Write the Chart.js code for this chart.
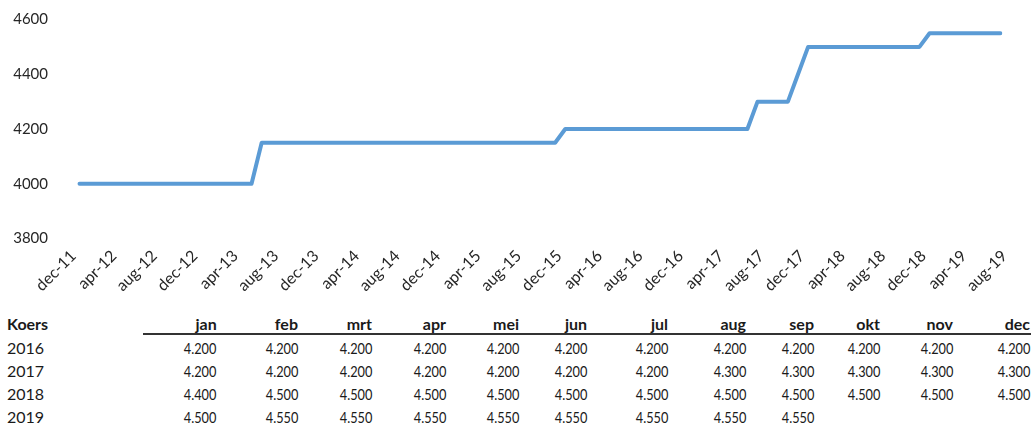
<!DOCTYPE html>
<html>
<head>
<meta charset="utf-8">
<script src="https://cdn.jsdelivr.net/npm/chart.js@4/dist/chart.umd.min.js"></script>
<style>
  html, body { margin: 0; padding: 0; background: #fff; }
  body { width: 1031px; height: 431px; position: relative; overflow: hidden; font-family: Lato, "Noto Sans", sans-serif; color: #1a1a1a; }
  #wrap { position: absolute; left: 0; top: 0; width: 1031px; height: 305px; }
  .cell { position: absolute; white-space: nowrap; line-height: 1; }
  .hdr { font-weight: bold; font-size: 16px; }
  .num { font-size: 15px; transform: scaleX(0.85); transform-origin: right center; }
  .yr { font-size: 16px; }
  #rule { position: absolute; left: 143px; width: 888px; top: 332.5px; height: 2px; background: #333; }
</style>
</head>
<body>
<div id="wrap"><canvas id="c"></canvas></div>
<div id="tbl"></div>
<script>
// ---- chart data ----
const months = [
  'dec-11',
  'jan-12','feb-12','mrt-12','apr-12','mei-12','jun-12','jul-12','aug-12','sep-12','okt-12','nov-12','dec-12',
  'jan-13','feb-13','mrt-13','apr-13','mei-13','jun-13','jul-13','aug-13','sep-13','okt-13','nov-13','dec-13',
  'jan-14','feb-14','mrt-14','apr-14','mei-14','jun-14','jul-14','aug-14','sep-14','okt-14','nov-14','dec-14',
  'jan-15','feb-15','mrt-15','apr-15','mei-15','jun-15','jul-15','aug-15','sep-15','okt-15','nov-15','dec-15',
  'jan-16','feb-16','mrt-16','apr-16','mei-16','jun-16','jul-16','aug-16','sep-16','okt-16','nov-16','dec-16',
  'jan-17','feb-17','mrt-17','apr-17','mei-17','jun-17','jul-17','aug-17','sep-17','okt-17','nov-17','dec-17',
  'jan-18','feb-18','mrt-18','apr-18','mei-18','jun-18','jul-18','aug-18','sep-18','okt-18','nov-18','dec-18',
  'jan-19','feb-19','mrt-19','apr-19','mei-19','jun-19','jul-19','aug-19'
];
const koers = [
  null,
  4000,4000,4000,4000,4000,4000,4000,4000,4000,4000,4000,4000,
  4000,4000,4000,4000,4000,4000,4150,4150,4150,4150,4150,4150,
  4150,4150,4150,4150,4150,4150,4150,4150,4150,4150,4150,4150,
  4150,4150,4150,4150,4150,4150,4150,4150,4150,4150,4150,4150,
  4200,4200,4200,4200,4200,4200,4200,4200,4200,4200,4200,4200,
  4200,4200,4200,4200,4200,4200,4200,4300,4300,4300,4300,4400,
  4500,4500,4500,4500,4500,4500,4500,4500,4500,4500,4500,4500,
  4550,4550,4550,4550,4550,4550,4550,4550
];
const xTickLabels = ['dec-11','apr-12','aug-12','dec-12','apr-13','aug-13','dec-13','apr-14','aug-14','dec-14',
  'apr-15','aug-15','dec-15','apr-16','aug-16','dec-16','apr-17','aug-17','dec-17','apr-18','aug-18','dec-18','apr-19','aug-19'];
const yTickValues = [3800, 4000, 4200, 4400, 4600];

// ---- table data ----
const tableTitle = 'Koers';
const tableMonths = ['jan','feb','mrt','apr','mei','jun','jul','aug','sep','okt','nov','dec'];
const tableYears = ['2016','2017','2018','2019'];
const koers2016 = [4200,4200,4200,4200,4200,4200,4200,4200,4200,4200,4200,4200];
const koers2017 = [4200,4200,4200,4200,4200,4200,4200,4300,4300,4300,4300,4300];
const koers2018 = [4400,4500,4500,4500,4500,4500,4500,4500,4500,4500,4500,4500];
const koers2019 = [4500,4550,4550,4550,4550,4550,4550,4550,4550];

// ---- layout (positions only) ----
const colRight = [216.7, 298, 372, 446, 519, 587, 668, 746, 814, 880, 953, 1030];
const headerCenterY = 324;
const rowCenterY = [348.5, 371.6, 394.7, 417.8];

Chart.defaults.font.family = 'Lato, "Noto Sans", sans-serif';
Chart.defaults.color = '#262626';

new Chart(document.getElementById('c'), {
  type: 'line',
  data: {
    labels: months,
    datasets: [{
      data: koers,
      borderColor: '#5B9BD5',
      borderWidth: 4,
      pointRadius: 0,
      pointHoverRadius: 0,
      tension: 0,
      fill: false,
      borderCapStyle: 'round',
      borderJoinStyle: 'round',
      spanGaps: false
    }]
  },
  options: {
    responsive: true,
    maintainAspectRatio: false,
    animation: false,
    devicePixelRatio: 1,
    layout: { padding: { top: 19.5, right: 30.6, left: 0, bottom: 0 } },
    plugins: { legend: { display: false }, tooltip: { enabled: false } },
    scales: {
      x: {
        type: 'category',
        offset: false,
        grid: { display: false, drawTicks: false },
        border: { display: false },
        ticks: {
          autoSkip: false,
          maxRotation: 45,
          minRotation: 45,
          padding: 8,
          labelOffset: 4,
          font: { size: 16 }
        },
        afterBuildTicks: s => { s.ticks = s.ticks.filter(t => xTickLabels.includes(months[t.value])); },
        afterFit: s => { s.height = 66.5; }
      },
      y: {
        min: 3800,
        max: 4600,
        grid: { display: false, drawTicks: false },
        border: { display: false },
        ticks: {
          padding: 21.4,
          font: { size: 15 },
          callback: v => String(v)
        },
        afterBuildTicks: s => { s.ticks = yTickValues.map(v => ({ value: v })); },
        afterFit: s => { s.width = 69.4; s.paddingTop = 0; s.paddingBottom = 0; }
      }
    }
  }
});

// ---- table ----
function fmt(v) { return String(v).replace(/\B(?=(\d{3})+(?!\d))/g, '.'); }
const tbl = document.getElementById('tbl');
function addCell(text, cls, centerY, size, right, left) {
  const d = document.createElement('div');
  d.className = 'cell ' + cls;
  d.textContent = text;
  d.style.top = (centerY - 0.53 * size) + 'px';
  if (right !== null) d.style.right = (1031 - right) + 'px';
  else d.style.left = left + 'px';
  tbl.appendChild(d);
}
addCell(tableTitle, 'hdr', headerCenterY, 16, null, 7);
tableMonths.forEach((m, i) => addCell(m, 'hdr', headerCenterY, 16, colRight[i], null));
const rule = document.createElement('div'); rule.id = 'rule'; tbl.appendChild(rule);
[koers2016, koers2017, koers2018, koers2019].forEach((row, r) => {
  addCell(tableYears[r], 'yr', rowCenterY[r], 16, null, 7);
  row.forEach((v, i) => addCell(fmt(v), 'num', rowCenterY[r], 15, colRight[i], null));
});
</script>
</body>
</html>
